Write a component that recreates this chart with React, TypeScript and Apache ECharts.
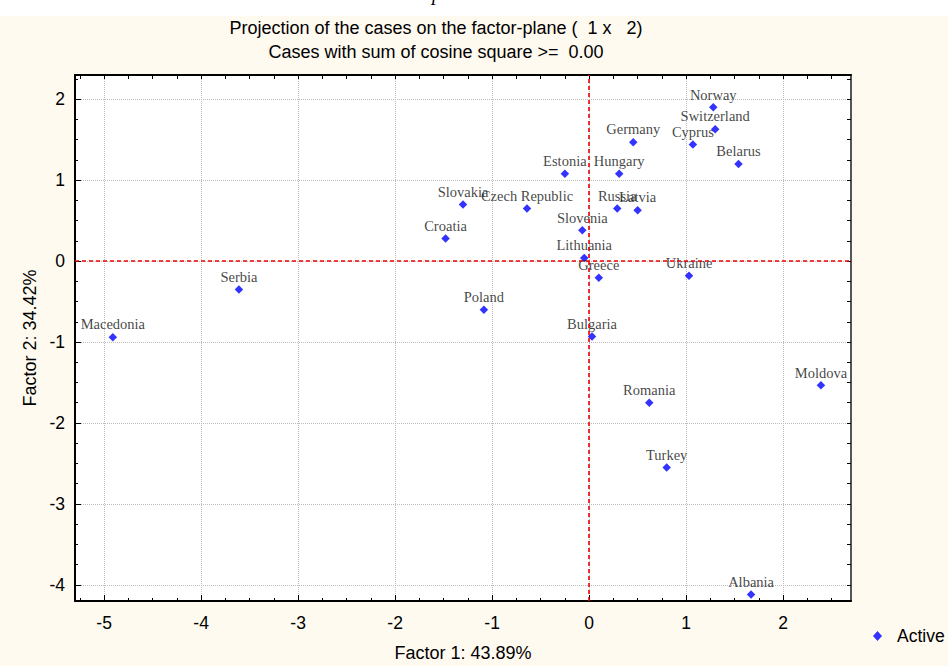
import React, { useEffect, useRef } from 'react';
import * as echarts from 'echarts';

// ---- data ----
const countries = [
  'Norway', 'Switzerland', 'Cyprus', 'Germany', 'Belarus', 'Estonia', 'Hungary',
  'Slovakia', 'Czech Republic', 'Russia', 'Latvia', 'Slovenia', 'Croatia', 'Lithuania',
  'Greece', 'Ukraine', 'Poland', 'Bulgaria', 'Serbia', 'Macedonia', 'Romania', 'Turkey',
  'Moldova', 'Albania',
];
const factor1 = [
  1.28, 1.30, 1.07, 0.455, 1.54, -0.25, 0.31,
  -1.30, -0.64, 0.29, 0.50, -0.07, -1.48, -0.05,
  0.10, 1.03, -1.085, 0.03, -3.61, -4.91, 0.62, 0.80,
  2.39, 1.67,
];
const factor2 = [
  1.90, 1.63, 1.44, 1.47, 1.20, 1.08, 1.08,
  0.70, 0.65, 0.65, 0.63, 0.38, 0.28, 0.04,
  -0.205, -0.18, -0.60, -0.93, -0.35, -0.94, -1.75, -2.55,
  -1.535, -4.12,
];
const xTickValues = [-5, -4, -3, -2, -1, 0, 1, 2];
const yTickValues = [-4, -3, -2, -1, 0, 1, 2];
const titleLine1 = 'Projection of the cases on the factor-plane (  1 x   2)';
const titleLine2 = 'Cases with sum of cosine square >=  0.00';
const xName = 'Factor 1: 43.89%';
const yName = 'Factor 2: 34.42%';
const seriesName = 'Active';

const X_MIN = -5.3;
const X_MAX = 2.7;
const Y_MIN = -4.2;
const Y_MAX = 2.3;

function quarterTicks(min: number, max: number, skipIntegers: boolean): number[] {
  const out: number[] = [];
  for (let i = Math.ceil(min * 4); i <= Math.floor(max * 4); i++) {
    if (skipIntegers && i % 4 === 0) continue;
    out.push(i / 4);
  }
  return out;
}

const SANS = '"Liberation Sans", Arial, sans-serif';
const SERIF = '"Liberation Serif", "Times New Roman", serif';
const CREAM = '#FFFAF0';

export default function App() {
  const ref = useRef<HTMLDivElement>(null);

  useEffect(() => {
    if (!ref.current) return;
    const chart = echarts.init(ref.current, undefined, { renderer: 'svg' });

    const points = countries.map((name, i) => ({ name, value: [factor1[i], factor2[i]] }));
    const xMinor = quarterTicks(X_MIN, X_MAX, true);
    const yMinor = quarterTicks(Y_MIN, Y_MAX, true);
    const xAll = quarterTicks(X_MIN, X_MAX, false);
    const yAll = quarterTicks(Y_MIN, Y_MAX, false);

    const hiddenBits = {
      axisLabel: { show: false },
      splitLine: { show: false },
      axisPointer: { show: false },
    };

    const option: any = {
      animation: false,
      backgroundColor: CREAM,
      grid: {
        left: 75,
        right: 97,
        top: 75,
        bottom: 65,
        show: true,
        backgroundColor: '#ffffff',
        borderWidth: 0,
        containLabel: false,
        outerBoundsMode: 'none',
      },
      graphic: [
        { type: 'rect', shape: { x: 0, y: 0, width: 948, height: 16 }, style: { fill: '#ffffff' }, silent: true },
        {
          type: 'text', x: 432, y: 3, silent: true,
          style: { text: 'p', fontFamily: SERIF, fontSize: 20, fontStyle: 'italic', fill: '#000', align: 'left', verticalAlign: 'bottom' },
        },
        {
          type: 'text', x: 436, y: 27.5, silent: true,
          style: { text: titleLine1, fontFamily: SANS, fontSize: 18, fill: '#000', align: 'center', verticalAlign: 'middle' },
        },
        {
          type: 'text', x: 436, y: 51.5, silent: true,
          style: { text: titleLine2, fontFamily: SANS, fontSize: 18, fill: '#000', align: 'center', verticalAlign: 'middle' },
        },
      ],
      legend: {
        show: true,
        left: 868,
        top: 622,
        itemWidth: 9,
        itemHeight: 10,
        data: [{ name: seriesName, icon: 'diamond' }],
        textStyle: { fontFamily: SANS, fontSize: 17.5, color: '#000', padding: [0, 0, 0, 10] },
      },
      xAxis: [
        {
          type: 'value', position: 'bottom', min: X_MIN, max: X_MAX, splitNumber: 8,
          axisLine: { show: true, onZero: false, lineStyle: { color: '#000', width: 2 } },
          axisTick: { show: true, inside: true, length: 6, customValues: xTickValues, lineStyle: { color: '#000', width: 1 } },
          axisLabel: { show: true, customValues: xTickValues, margin: 13, fontFamily: SANS, fontSize: 17.5, color: '#000' },
          splitLine: { show: true, lineStyle: { color: '#bdbdbd', type: 'dotted', width: 1 } },
          name: xName, nameLocation: 'middle', nameGap: 43,
          nameTextStyle: { fontFamily: SANS, fontSize: 18, color: '#000' },
        },
        {
          type: 'value', position: 'bottom', min: X_MIN, max: X_MAX,
          axisLine: { show: false, onZero: false },
          axisTick: { show: true, inside: true, length: 3, customValues: xMinor, lineStyle: { color: '#000', width: 1 } },
          ...hiddenBits,
        },
        {
          type: 'value', position: 'top', min: X_MIN, max: X_MAX,
          axisLine: { show: true, onZero: false, lineStyle: { color: '#000', width: 2 } },
          axisTick: { show: true, inside: true, length: 4, customValues: xAll, lineStyle: { color: '#000', width: 1 } },
          ...hiddenBits,
        },
      ],
      yAxis: [
        {
          type: 'value', position: 'left', min: Y_MIN, max: Y_MAX, splitNumber: 6,
          axisLine: { show: true, onZero: false, lineStyle: { color: '#000', width: 2 } },
          axisTick: { show: true, inside: true, length: 6, customValues: yTickValues, lineStyle: { color: '#000', width: 1 } },
          axisLabel: { show: true, customValues: yTickValues, margin: 10, fontFamily: SANS, fontSize: 17.5, color: '#000' },
          splitLine: { show: true, lineStyle: { color: '#bdbdbd', type: 'dotted', width: 1 } },
          name: yName, nameLocation: 'middle', nameGap: 33,
          nameTextStyle: { fontFamily: SANS, fontSize: 18, color: '#000' },
        },
        {
          type: 'value', position: 'left', min: Y_MIN, max: Y_MAX,
          axisLine: { show: false, onZero: false },
          axisTick: { show: true, inside: true, length: 3, customValues: yMinor, lineStyle: { color: '#000', width: 1 } },
          ...hiddenBits,
        },
        {
          type: 'value', position: 'right', min: Y_MIN, max: Y_MAX,
          axisLine: { show: true, onZero: false, lineStyle: { color: '#555', width: 2 } },
          axisTick: { show: true, inside: true, length: 4, customValues: yAll, lineStyle: { color: '#000', width: 1 } },
          ...hiddenBits,
        },
      ],
      series: [
        {
          name: seriesName,
          type: 'scatter',
          xAxisIndex: 0,
          yAxisIndex: 0,
          symbol: 'diamond',
          symbolSize: 8.5,
          itemStyle: { color: '#0000ff' },
          data: points,
          label: {
            show: true,
            position: 'top',
            distance: 1,
            formatter: (p: any) => p.name,
            fontFamily: SERIF,
            fontSize: 14.5,
            color: '#111111',
          },
          markLine: {
            silent: true,
            symbol: ['none', 'none'],
            label: { show: false },
            lineStyle: { color: '#ee0000', type: [4, 3], width: 1.6 },
            data: [{ xAxis: 0 }, { yAxis: 0 }],
          },
          z: 3,
        },
      ],
    };

    chart.setOption(option);
    return () => {
      chart.dispose();
    };
  }, []);

  return (
    <div
      ref={ref}
      style={{ position: 'absolute', left: 0, top: 0, width: 948, height: 666 }}
    />
  );
}
